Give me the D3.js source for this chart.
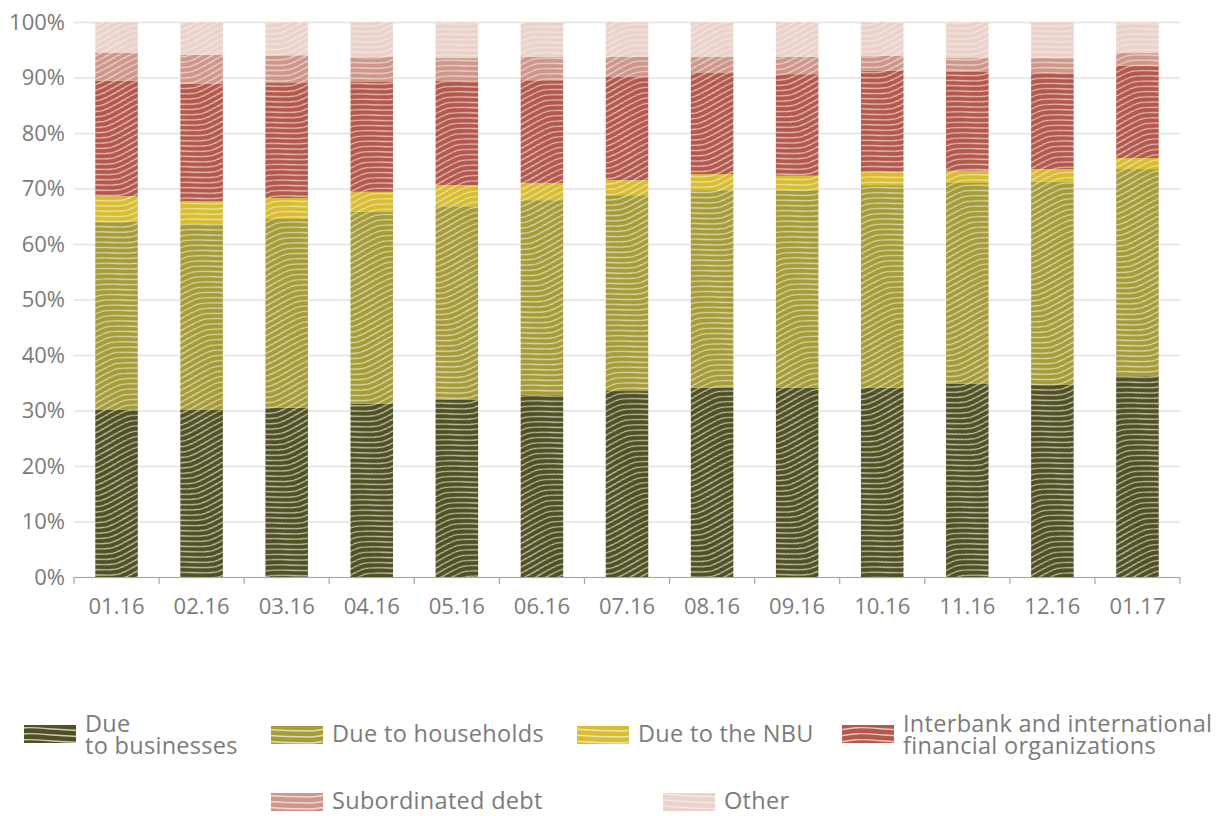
<!DOCTYPE html>
<html>
<head>
<meta charset="utf-8">
<script src="https://cdn.jsdelivr.net/npm/d3@7"></script>
<style>
  html, body { margin: 0; padding: 0; background: #fff; }
  svg { display: block; font-family: "Open Sans", "Noto Sans", sans-serif; }
</style>
</head>
<body>
<svg id="chart" width="1229" height="816"></svg>
<script>
// Liability structure of banks, share of total (%)
const months = ["01.16","02.16","03.16","04.16","05.16","06.16","07.16","08.16","09.16","10.16","11.16","12.16","01.17"];

const dueBusinesses  = [30.1, 30.1, 30.5, 31.2, 31.9, 32.8, 33.5, 34.1, 34.1, 34.1, 34.8, 34.6, 36.2];
const dueHouseholds  = [33.9, 33.5, 34.0, 34.6, 34.9, 35.1, 35.3, 35.6, 35.6, 36.5, 36.2, 36.6, 37.3];
const dueNBU         = [ 4.6,  4.1,  3.8,  3.6,  3.8,  3.1,  2.7,  2.9,  2.6,  2.4,  2.2,  2.3,  2.0];
const interbank      = [20.8, 21.2, 20.7, 19.8, 18.8, 18.5, 18.6, 18.2, 18.3, 18.2, 17.8, 17.3, 16.6];
const subordinated   = [ 5.1,  5.2,  5.0,  4.5,  4.1,  4.2,  3.6,  2.9,  3.1,  2.7,  2.5,  2.7,  2.3];
const other          = [ 5.5,  5.9,  6.0,  6.3,  6.5,  6.3,  6.3,  6.3,  6.3,  6.1,  6.5,  6.5,  5.6];

const seriesNames = ["Due\nto businesses", "Due to households", "Due to the NBU",
                     "Interbank and international\nfinancial organizations", "Subordinated debt", "Other"];
const seriesColors = ["#4f5124", "#a59c38", "#d8bd2c", "#b4574c", "#cf968b", "#ebd2cd"];
const yTicks = [0, 10, 20, 30, 40, 50, 60, 70, 80, 90, 100];

const seriesValues = [dueBusinesses, dueHouseholds, dueNBU, interbank, subordinated, other];
const keys = seriesValues.map((_, i) => "s" + i);
const rows = months.map((m, j) => {
  const r = { month: m };
  keys.forEach((k, i) => r[k] = seriesValues[i][j]);
  return r;
});
const stacked = d3.stack().keys(keys)(rows);

const svg = d3.select("#chart");
const plotLeft = 74, plotRight = 1180, plotTop = 22, plotBottom = 577;
const textGrey = "#7b7b7b";

const x = d3.scaleBand().domain(months).range([plotLeft, plotRight]).paddingInner(0.5).paddingOuter(0.25);
const y = d3.scaleLinear().domain([0, 100]).range([plotBottom, plotTop]);

// Wavy line textures, one per series colour
const defs = svg.append("defs");
seriesColors.forEach((c, i) => {
  const tileW = 96, tileH = 5.4, amp = 7;
  const p = defs.append("pattern")
    .attr("id", "wave" + i)
    .attr("patternUnits", "userSpaceOnUse")
    .attr("width", tileW).attr("height", tileH)
    .attr("patternTransform", "rotate(-14)");
  p.append("rect").attr("width", tileW).attr("height", tileH).attr("fill", c);
  for (let k = -3; k <= 3; k++) {
    const o = tileH / 2 + k * tileH;
    p.append("path")
      .attr("d", `M0,${o} C${tileW / 4},${o - amp} ${tileW / 4},${o - amp} ${tileW / 2},${o} S${tileW * 3 / 4},${o + amp} ${tileW},${o}`)
      .attr("fill", "none")
      .attr("stroke", "#f4efe6")
      .attr("stroke-opacity", 0.72)
      .attr("stroke-width", 1.25);
  }

  // flatter texture for legend keys
  const q = defs.append("pattern")
    .attr("id", "waveKey" + i)
    .attr("patternUnits", "userSpaceOnUse")
    .attr("width", 104).attr("height", 6);
  q.append("rect").attr("width", 104).attr("height", 6).attr("fill", c);
  for (let k = -1; k <= 1; k++) {
    const o = 3 + k * 6;
    q.append("path")
      .attr("d", `M0,${o + 2} C26,${o - 2} 26,${o - 2} 52,${o} S78,${o + 2} 104,${o + 2}`)
      .attr("fill", "none")
      .attr("stroke", "#f4efe6")
      .attr("stroke-opacity", 0.75)
      .attr("stroke-width", 1.3);
  }
});

// Gridlines and y labels
const yAxis = svg.append("g")
  .attr("transform", `translate(${plotLeft},0)`)
  .call(d3.axisLeft(y).tickValues(yTicks).tickFormat(d => d + "%").tickSize(-(plotRight - plotLeft)).tickPadding(9));
yAxis.select(".domain").remove();
yAxis.selectAll(".tick line").attr("stroke", "#e2e2e2").attr("stroke-width", 1.5);
yAxis.selectAll(".tick text")
  .attr("fill", textGrey).style("font-size", "22px")
  .style("font-family", '"Open Sans", sans-serif');

// Bars
svg.append("g").selectAll("g")
  .data(stacked)
  .join("g")
  .attr("fill", (d, i) => `url(#wave${i})`)
  .selectAll("rect")
  .data(d => d)
  .join("rect")
  .attr("x", d => x(d.data.month))
  .attr("width", x.bandwidth())
  .attr("y", d => y(d[1]))
  .attr("height", d => y(d[0]) - y(d[1]));

// X axis with ticks at category boundaries
const step = x.step();
const gap = (step - x.bandwidth()) / 2;
const xg = svg.append("g");
xg.append("line")
  .attr("x1", plotLeft).attr("x2", plotRight)
  .attr("y1", plotBottom + 0.5).attr("y2", plotBottom + 0.5)
  .attr("stroke", "#a6a6a6").attr("stroke-width", 1.2);
const bounds = months.map(m => x(m) - gap).concat([x(months[months.length - 1]) + x.bandwidth() + gap]);
xg.selectAll("line.tk")
  .data(bounds)
  .join("line")
  .attr("class", "tk")
  .attr("x1", d => d).attr("x2", d => d)
  .attr("y1", plotBottom).attr("y2", plotBottom + 7)
  .attr("stroke", "#a6a6a6").attr("stroke-width", 1.2);
xg.selectAll("text")
  .data(months)
  .join("text")
  .attr("x", d => x(d) + x.bandwidth() / 2)
  .attr("y", plotBottom + 37)
  .attr("text-anchor", "middle")
  .attr("fill", textGrey)
  .style("font-size", "22px")
  .text(d => d);

// Legend
const legendItems = [
  { i: 0, x: 24,  y: 725 },
  { i: 1, x: 271, y: 726 },
  { i: 2, x: 577, y: 726 },
  { i: 3, x: 842, y: 725 },
  { i: 4, x: 271, y: 793 },
  { i: 5, x: 663, y: 793 }
];
const lg = svg.append("g");
legendItems.forEach(it => {
  lg.append("rect")
    .attr("x", it.x).attr("y", it.y)
    .attr("width", 52).attr("height", 18)
    .attr("fill", `url(#waveKey${it.i})`);
  const lines = seriesNames[it.i].split("\n");
  const tx = it.x + 61;
  const baselines = lines.length === 1 ? [it.y + 16] : [it.y + 7, it.y + 29];
  lines.forEach((l, k) => {
    lg.append("text")
      .attr("x", tx).attr("y", baselines[k])
      .attr("fill", textGrey)
      .style("font-size", "23.5px")
      .style("letter-spacing", "0.3px")
      .text(l);
  });
});
</script>
</body>
</html>
